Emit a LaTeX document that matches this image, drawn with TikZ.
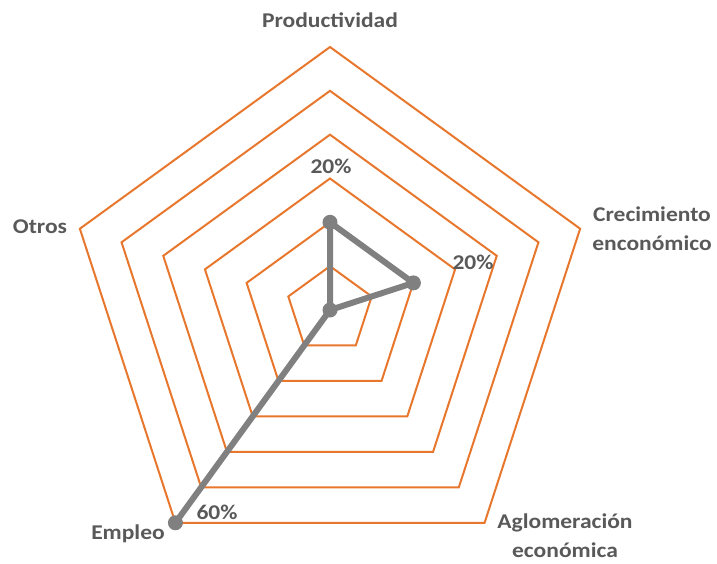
\documentclass[tikz,border=0pt]{standalone}
\usepackage{fontspec}
\usetikzlibrary{calc}
\setmainfont{Carlito}[FakeStretch=1.12]
\definecolor{ringc}{HTML}{E8772E}
\definecolor{seriesc}{HTML}{808080}
\definecolor{lblc}{HTML}{595959}
\begin{document}
\begin{tikzpicture}[x=1pt,y=-1pt,
  ringline/.style={draw=ringc,line width=2pt,line join=miter},
  dataline/.style={draw=seriesc,line width=6pt,line join=round,line cap=round},
  marker/.style={circle,fill=seriesc,inner sep=0pt,minimum size=15pt},
  axislabel/.style={text=lblc,font=\fontsize{21}{29}\selectfont\bfseries,align=center,inner sep=0pt},
  valuelabel/.style={text=lblc,font=\fontsize{21}{26}\selectfont\bfseries,inner sep=0pt}]
\useasboundingbox (0,0) rectangle (717,563);
\coordinate (c) at (330,310);
% rings
\foreach \r in {43.83,87.67,131.5,175.33,219.17,263}{
  \draw[ringline,shift={(330,310)}] (-90:\r) -- (-18:\r) -- (54:\r) -- (126:\r) -- (198:\r) -- cycle;
}
% data points
\coordinate (p) at ($(c)+(-90:87.67)$);
\coordinate (cr) at ($(c)+(-18:87.67)$);
\coordinate (e) at ($(c)+(126:263)$);
\draw[dataline] (c) -- (p) -- (cr) -- (c) -- (e) -- cycle;
\node[marker] (mp) at (p) {};
\node[marker] (mcr) at (cr) {};
\node[marker] (mc) at (c) {};
\node[marker] (me) at (e) {};
% axis labels
\node[axislabel] (lprod) at (330,20) {Productividad};
\node[axislabel] (lcrec) at (652,229) {Crecimiento\\enconómico};
\node[axislabel] (lotros) at (40,227) {Otros};
\node[axislabel] (lemp) at (128,534) {Empleo};
\node[axislabel] (laglo) at (565,536) {Aglomeración\\económica};
% value labels
\node[valuelabel] (v1) at (331,166) {20\%};
\node[valuelabel] (v2) at (473,262) {20\%};
\node[valuelabel] (v3) at (217,512) {60\%};
\end{tikzpicture}
\end{document}
